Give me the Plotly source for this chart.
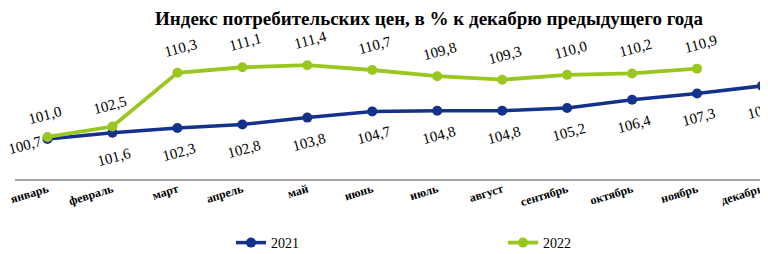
import plotly.graph_objects as go

months = ["январь", "февраль", "март", "апрель", "май", "июнь", "июль",
          "август", "сентябрь", "октябрь", "ноябрь", "декабрь"]
cpi_2021 = [100.7, 101.6, 102.3, 102.8, 103.8, 104.7, 104.8, 104.8, 105.2, 106.4, 107.3, 108.4]
cpi_2022 = [101.0, 102.5, 110.3, 111.1, 111.4, 110.7, 109.8, 109.3, 110.0, 110.2, 110.9]
labels_2021 = ["100,7", "101,6", "102,3", "102,8", "103,8", "104,7", "104,8", "104,8",
               "105,2", "106,4", "107,3", "108,4"]
labels_2022 = ["101,0", "102,5", "110,3", "111,1", "111,4", "110,7", "109,8", "109,3",
               "110,0", "110,2", "110,9"]
title = "Индекс потребительских цен, в % к декабрю предыдущего года"

C2021 = "#14318c"
C2022 = "#9ac71f"
FONT = "Liberation Serif"

# the page body has an 8px default margin: the figure is sized/offset to compensate
W, H = 760, 246
OFF = 8

fig = go.Figure()
fig.add_trace(go.Scatter(x=months, y=cpi_2021, name="2021", mode="lines+markers",
                         line=dict(color=C2021, width=3.5),
                         marker=dict(color=C2021, size=10)))
fig.add_trace(go.Scatter(x=months[:len(cpi_2022)], y=cpi_2022, name="2022", mode="lines+markers",
                         line=dict(color=C2022, width=3.8),
                         marker=dict(color=C2022, size=10)))

annotations = []
for i, (m, v, t) in enumerate(zip(months, cpi_2021, labels_2021)):
    if i == 0:
        xs, ys = -22, -6
    else:
        xs, ys = 2, -24
    annotations.append(dict(x=m, y=v, text=t, showarrow=False, textangle=-15,
                            xshift=xs, yshift=ys,
                            font=dict(family=FONT, size=15, color="black")))
for i, (m, v, t) in enumerate(zip(months, cpi_2022, labels_2022)):
    annotations.append(dict(x=m, y=v, text=t, showarrow=False, textangle=-15,
                            xshift=3 if i > 1 else -2, yshift=25 if i > 1 else 22,
                            font=dict(family=FONT, size=15, color="black")))

fig.update_layout(
    width=W, height=H,
    margin=dict(l=14.5 - OFF, r=0, t=30 - OFF, b=H - (179 - OFF)),
    paper_bgcolor="white", plot_bgcolor="white",
    title=dict(text="<b>" + title + "</b>", x=(429 - OFF) / W, xanchor="center",
               xref="container", y=1 - 4 / H, yanchor="top", yref="container",
               pad=dict(t=0, b=0, l=0, r=0),
               font=dict(family=FONT, size=19, color="black")),
    xaxis=dict(type="category", range=[-0.5, (W - (14.5 - OFF)) / 65 - 0.5],
               showgrid=False, zeroline=False, showline=True,
               linecolor="#a6a6a6", linewidth=1.5, ticks="",
               tickangle=-17, ticklabelstandoff=-3,
               tickfont=dict(family=FONT, size=12, color="black", weight="bold")),
    yaxis=dict(range=[94.9, 116.5], visible=False),
    showlegend=True,
    legend=dict(orientation="h", xref="container", yref="container",
                x=(231 - OFF) / W, xanchor="left", y=1 - (243 - OFF) / H, yanchor="middle",
                entrywidth=227, entrywidthmode="pixels",
                font=dict(family=FONT, size=14, color="black")),
    annotations=annotations,
)

fig.write_html("out.html")
